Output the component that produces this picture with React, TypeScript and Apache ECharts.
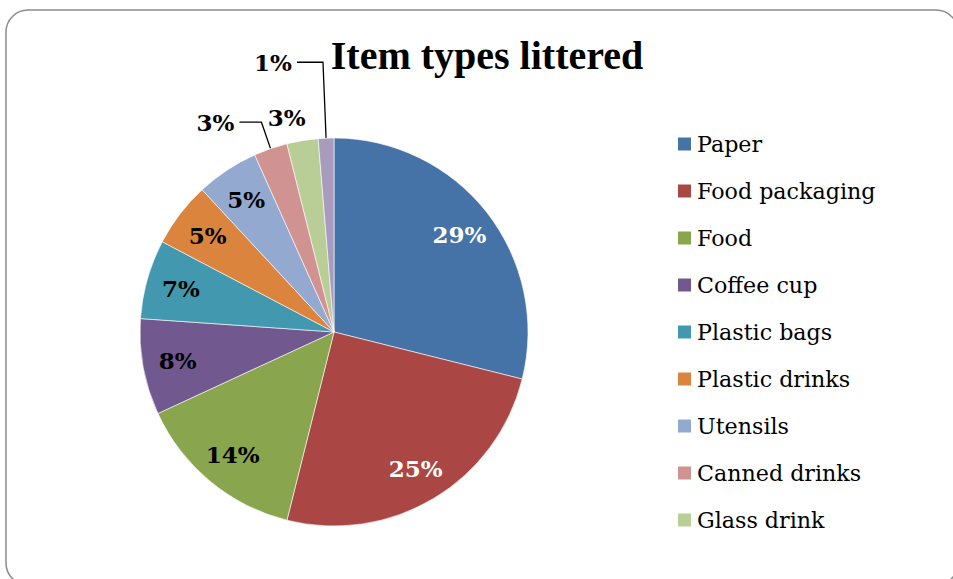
import React, { useEffect, useRef } from "react";
import * as echarts from "echarts";

const categories = [
  "Paper",
  "Food packaging",
  "Food",
  "Coffee cup",
  "Plastic bags",
  "Plastic drinks",
  "Utensils",
  "Canned drinks",
  "Glass drink",
  "Other",
];
const values = [28.9, 25, 14.2, 8, 6.6, 5.4, 5.2, 2.8, 2.6, 1.3];
const colors = [
  "#4572A7",
  "#AA4643",
  "#89A54E",
  "#71588F",
  "#4198AF",
  "#DB843D",
  "#93A9CF",
  "#D19392",
  "#B9CD96",
  "#A99BBD",
];
const legendNames = categories.slice(0, 9);
const whiteLabels = ["Paper", "Food packaging"];
const outsideLabels: Record<string, { length: number; length2: number; line: boolean; dx: number; dy: number }> = {
  "Canned drinks": { length: 28, length2: 22, line: true, dx: 0, dy: 0 },
  "Glass drink": { length: 23, length2: 0, line: false, dx: 12, dy: 0 },
  Other: { length: 76, length2: 26, line: true, dx: 0, dy: 0 },
};

const FONT = "'Liberation Serif', 'DejaVu Serif', serif";
const FONT2 = "'DejaVu Serif', 'Liberation Serif', serif";

export default function App() {
  const ref = useRef<HTMLDivElement>(null);
  useEffect(() => {
    if (!ref.current) return;
    const chart = echarts.init(ref.current, undefined, { renderer: "svg" });
    const center = [334, 332];
    const R = 194;
    const baseData = categories.map((name, i) => ({
      name,
      value: values[i],
      itemStyle: { color: colors[i] },
    }));
    const labelData = categories.map((name, i) => {
      const out = outsideLabels[name];
      return {
        name,
        value: values[i],
        itemStyle: { color: "rgba(0,0,0,0)", borderWidth: 0 },
        label: out
          ? { show: true, position: "outside", color: "#000" }
          : {
              show: true,
              position: "inside",
              color: whiteLabels.includes(name) ? "#fff" : "#000",
            },
        labelLine: out
          ? {
              show: out.line,
              length: out.length,
              length2: out.length2,
              lineStyle: { color: "#000", width: 1.3 },
            }
          : { show: false },
      };
    });
    chart.setOption({
      animation: false,
      backgroundColor: "#fff",
      title: {
        text: "Item types littered",
        left: 482,
        top: 30,
        textAlign: "center",
        textStyle: { fontFamily: FONT, fontSize: 40, fontWeight: "bold", color: "#000" },
      },
      legend: {
        data: legendNames,
        orient: "vertical",
        left: 676,
        top: 131,
        padding: 0,
        icon: "rect",
        itemWidth: 15,
        itemHeight: 15,
        itemGap: 21,
        textStyle: { fontFamily: FONT2, fontSize: 22.2, color: "#000", lineHeight: 26 },
      },
      graphic: [
        {
          type: "rect",
          z: -10,
          shape: { x: 6, y: 10, width: 952, height: 575, r: 22 },
          style: { fill: "none", stroke: "#8c8c8c", lineWidth: 1.5 },
          silent: true,
        },
      ],
      series: [
        {
          type: "pie",
          center,
          radius: [0, R],
          startAngle: 90,
          clockwise: true,
          avoidLabelOverlap: false,
          label: { show: false },
          labelLine: { show: false },
          itemStyle: { borderColor: "#fff", borderWidth: 0.6 },
          data: baseData,
          silent: true,
        },
        {
          type: "pie",
          center,
          radius: [118, R],
          startAngle: 90,
          clockwise: true,
          avoidLabelOverlap: false,
          silent: true,
          label: {
            fontFamily: FONT2,
            fontSize: 23,
            fontWeight: "bold",
            formatter: (p: any) => Math.round(p.percent) + "%",
          },
          labelLayout: (p: any) => {
            const out = outsideLabels[categories[p.dataIndex]];
            if (out && (out.dx || out.dy)) return { dx: out.dx, dy: out.dy };
            return {};
          },
          data: labelData,
        },
      ],
    });
    return () => chart.dispose();
  }, []);
  return (
    <div
      ref={ref}
      style={{ position: "fixed", left: 0, top: 0, width: 953, height: 579 }}
    />
  );
}
